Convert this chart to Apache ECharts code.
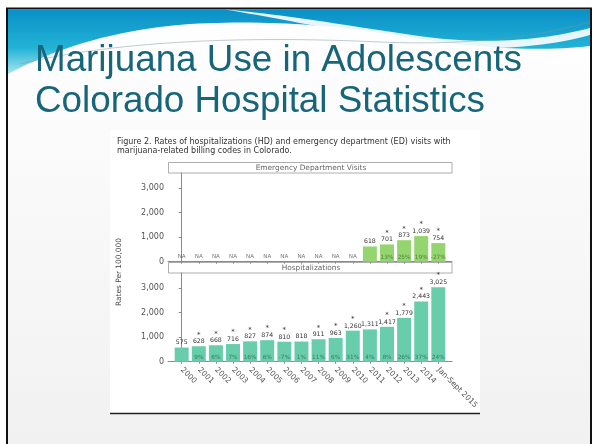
<!DOCTYPE html>
<html>
<head>
<meta charset="utf-8">
<script src="https://cdn.jsdelivr.net/npm/echarts@6/dist/echarts.min.js"></script>
<style>
  html, body { margin: 0; padding: 0; background: #ffffff; }
  #chart { width: 594px; height: 444px; }
</style>
</head>
<body>
<div id="chart"></div>
<script>
// Colorado marijuana-related hospital statistics, rates per 100,000
const years = ['2000', '2001', '2002', '2003', '2004', '2005', '2006', '2007',
  '2008', '2009', '2010', '2011', '2012', '2013', '2014', 'Jan-Sept 2015'];

// Hospitalizations (HD)
const hospRates = [575, 628, 668, 716, 827, 874, 810, 818, 911, 963, 1260, 1311, 1417, 1779, 2443, 3025];
const hospChange = [null, '9%', '6%', '7%', '16%', '6%', '-7%', '1%', '11%', '6%', '31%', '4%', '8%', '26%', '37%', '24%'];
const hospSignificant = [0, 1, 1, 1, 1, 1, 1, 0, 1, 1, 1, 0, 1, 1, 1, 1];

// Emergency department visits (ED); null = not available
const edRates = [null, null, null, null, null, null, null, null, null, null, null, 618, 701, 873, 1039, 754];
const edChange = [null, null, null, null, null, null, null, null, null, null, null, null, '13%', '25%', '19%', '-27%'];
const edSignificant = [0, 0, 0, 0, 0, 0, 0, 0, 0, 0, 0, 0, 1, 1, 1, 1];

const rateTicks = [0, 1000, 2000, 3000];

const FONT = 'DejaVu Sans';
const fmt = v => v.toLocaleString('en-US');
const idx = years.map((_, i) => i);

// Turn a list of [start, c1, c2, end] cubic segments (or plain points) into polygon points
function curvePoints(parts) {
  const pts = [];
  parts.forEach(part => {
    if (part.length === 2 && typeof part[0] === 'number') { pts.push(part); return; }
    const [p0, p1, p2, p3] = part;
    for (let k = 0; k <= 24; k++) {
      const t = k / 24, u = 1 - t;
      pts.push([
        u * u * u * p0[0] + 3 * u * u * t * p1[0] + 3 * u * t * t * p2[0] + t * t * t * p3[0],
        u * u * u * p0[1] + 3 * u * u * t * p1[1] + 3 * u * t * t * p2[1] + t * t * t * p3[1]
      ]);
    }
  });
  return pts;
}

const waveBand = curvePoints([
  [8, 9.5], [590, 9.5], [590, 46],
  [[590, 46], [540, 52], [470, 48], [400, 36]],
  [[400, 36], [330, 24], [260, 20], [190, 24]],
  [[190, 24], [120, 29], [60, 46], [8, 74]]
]);
const waveHighlight = curvePoints([
  [[225, 9.5], [300, 16], [370, 30], [435, 38]],
  [[435, 38], [490, 44], [545, 40], [590, 28]],
  [590, 35],
  [[590, 35], [540, 49], [480, 51], [425, 44]],
  [[425, 44], [355, 35], [290, 20], [225, 9.5]]
]);
const waveLine = curvePoints([
  [[20, 64], [120, 40], [250, 36], [380, 42]],
  [[380, 42], [470, 46], [540, 36], [590, 22]]
]);

const valueLabel = (flags) => ({
  show: true,
  position: 'top',
  distance: 1,
  formatter: p => {
    const i = p.value[0];
    return (flags[i] ? '{s|*}\n' : '') + '{v|' + fmt(p.value[1]) + '}';
  },
  rich: {
    s: { fontFamily: FONT, fontSize: 7, lineHeight: 6, color: '#333' },
    v: { fontFamily: FONT, fontSize: 6.2, lineHeight: 7.5, color: '#333' }
  }
});

function xAxisFor(gridIndex, withLabels) {
  return {
    type: 'value', gridIndex, min: -0.8, max: 15.8,
    splitLine: { show: false },
    axisLine: { show: true, onZero: false, lineStyle: { color: '#8a8a8a', width: 1 } },
    axisTick: { show: true, length: 2, customValues: idx, lineStyle: { color: '#8a8a8a' } },
    axisLabel: withLabels ? {
      show: true, customValues: idx, rotate: -45, margin: 7,
      fontFamily: FONT, fontSize: 7.6, color: '#555',
      formatter: v => years[Math.round(v)]
    } : { show: false }
  };
}

function yAxisFor(gridIndex) {
  return {
    type: 'value', gridIndex, min: 0, max: 3600,
    splitLine: { show: false },
    axisLine: { show: true, lineStyle: { color: '#8a8a8a', width: 1 } },
    axisTick: { show: true, length: 3, customValues: rateTicks, lineStyle: { color: '#8a8a8a' } },
    axisLabel: {
      show: true, customValues: rateTicks, margin: 4,
      fontFamily: FONT, fontSize: 8, color: '#555',
      formatter: v => fmt(v)
    }
  };
}

const chart = echarts.init(document.getElementById('chart'), null, { renderer: 'canvas' });

const option = {
  animation: false,
  backgroundColor: 'transparent',
  grid: [
    { left: 168, right: 142, top: 173, height: 88.7 },
    { left: 168, right: 142, top: 273, height: 88.7 }
  ],
  xAxis: [xAxisFor(0, false), xAxisFor(1, true)],
  yAxis: [yAxisFor(0), yAxisFor(1)],
  graphic: [
    // slide background and frame
    { type: 'rect', z: -20, shape: { x: 0, y: 0, width: 594, height: 444 }, style: { fill: '#ffffff' } },
    { type: 'rect', z: -19, shape: { x: 7, y: 8.5, width: 584, height: 440 },
      style: { fill: { type: 'linear', x: 0, y: 0, x2: 0, y2: 1, colorStops: [
        { offset: 0, color: '#ffffff' }, { offset: 1, color: '#f1f1f1' } ] },
        stroke: '#111', lineWidth: 2 } },
    // header wave
    { type: 'polygon', z: -18, shape: { points: waveBand },
      style: { fill: { type: 'linear', x: 0, y: 0, x2: 0, y2: 1, colorStops: [
        { offset: 0, color: '#0a8fc6' }, { offset: 0.6, color: '#22b3d6' }, { offset: 1, color: '#a8e6f0' } ] } } },
    { type: 'polygon', z: -17, shape: { points: waveHighlight }, style: { fill: 'rgba(255,255,255,0.9)' } },
    { type: 'polyline', z: -17, shape: { points: waveLine }, style: { stroke: 'rgba(120,150,160,0.6)', lineWidth: 0.8 } },
    // title
    { type: 'text', z: -10, x: 35, y: 61, style: { text: 'Marijuana Use in Adolescents', font: '36.8px "Liberation Sans", Arial, sans-serif', fill: '#17657a', verticalAlign: 'middle' } },
    { type: 'text', z: -10, x: 35, y: 102, style: { text: 'Colorado Hospital Statistics', font: '36.8px "Liberation Sans", Arial, sans-serif', fill: '#17657a', verticalAlign: 'middle' } },
    // figure panel
    { type: 'rect', z: -10, shape: { x: 110, y: 130, width: 370, height: 283 }, style: { fill: '#ffffff' } },
    { type: 'line', z: -9, shape: { x1: 110, y1: 413.5, x2: 480, y2: 413.5 }, style: { stroke: '#222', lineWidth: 1.5 } },
    { type: 'text', z: -9, x: 117, y: 137, style: {
        text: 'Figure 2. Rates of hospitalizations (HD) and emergency department (ED) visits with\nmarijuana-related billing codes in Colorado.',
        font: '8px "DejaVu Sans"', lineHeight: 9, fill: '#333' } },
    // strip headers
    { type: 'rect', z: -9, shape: { x: 168.5, y: 162.5, width: 283.5, height: 10.5 }, style: { fill: '#fff', stroke: '#999', lineWidth: 0.8 } },
    { type: 'text', z: -8, x: 311, y: 168, style: { text: 'Emergency Department Visits', font: '7.4px "DejaVu Sans"', fill: '#666', align: 'center', verticalAlign: 'middle' } },
    { type: 'rect', z: -9, shape: { x: 168.5, y: 262.5, width: 283.5, height: 10.5 }, style: { fill: '#fff', stroke: '#999', lineWidth: 0.8 } },
    { type: 'text', z: -8, x: 311, y: 268, style: { text: 'Hospitalizations', font: '7.4px "DejaVu Sans"', fill: '#666', align: 'center', verticalAlign: 'middle' } },
    // shared y-axis title
    { type: 'text', z: -8, x: 119, y: 272, rotation: Math.PI / 2, style: { text: 'Rates Per 100,000', font: '7.4px "DejaVu Sans"', fill: '#444', align: 'center', verticalAlign: 'middle' } }
  ],
  series: [
    {
      type: 'bar', xAxisIndex: 0, yAxisIndex: 0, barWidth: 14,
      data: edRates.map((v, i) => [i, v]).filter(d => d[1] != null),
      itemStyle: { color: '#95d56f' },
      label: valueLabel(edSignificant)
    },
    {
      type: 'scatter', xAxisIndex: 0, yAxisIndex: 0, symbolSize: 0, silent: true,
      data: edRates.map((v, i) => [i, 0]).filter(d => edRates[d[0]] == null),
      label: { show: true, position: 'top', distance: 2, formatter: 'NA', fontFamily: FONT, fontSize: 5.6, color: '#555' }
    },
    {
      type: 'scatter', xAxisIndex: 0, yAxisIndex: 0, symbolSize: 0, silent: true, z: 5,
      data: edChange.map((v, i) => [i, 0]).filter(d => edChange[d[0]] != null),
      label: { show: true, position: 'top', distance: 1, formatter: p => edChange[p.value[0]], fontFamily: FONT, fontSize: 5.8, color: '#3d6e2a' }
    },
    {
      type: 'bar', xAxisIndex: 1, yAxisIndex: 1, barWidth: 14,
      data: hospRates.map((v, i) => [i, v]),
      itemStyle: { color: '#68cdaa' },
      label: valueLabel(hospSignificant)
    },
    {
      type: 'scatter', xAxisIndex: 1, yAxisIndex: 1, symbolSize: 0, silent: true, z: 5,
      data: hospChange.map((v, i) => [i, 0]).filter(d => hospChange[d[0]] != null),
      label: { show: true, position: 'top', distance: 1, formatter: p => hospChange[p.value[0]], fontFamily: FONT, fontSize: 5.8, color: '#2f6656' }
    }
  ]
};

chart.setOption(option);
</script>
</body>
</html>
